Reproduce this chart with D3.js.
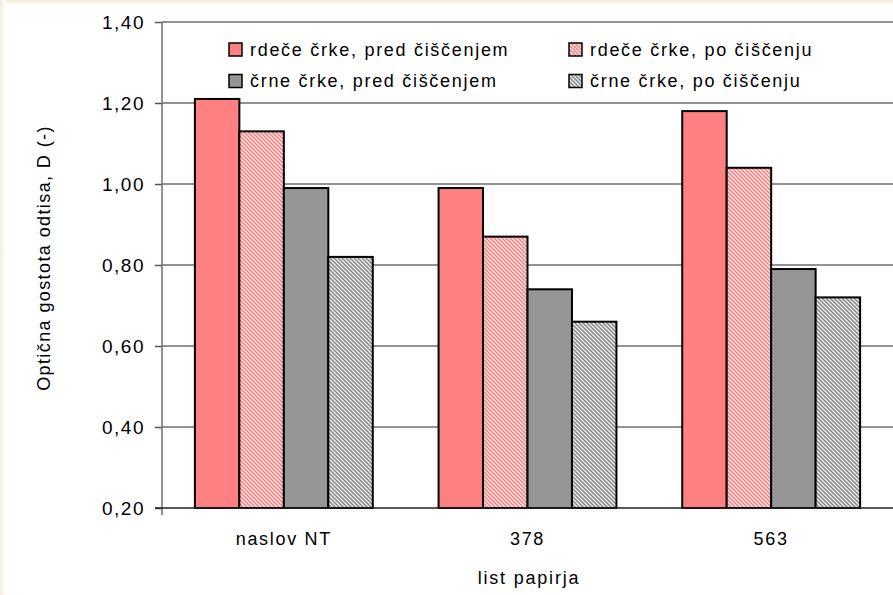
<!DOCTYPE html>
<html><head><meta charset="utf-8">
<script src="https://cdn.jsdelivr.net/npm/d3@7"></script>
<style>
html,body{margin:0;padding:0;background:#fff;}
svg{display:block;font-family:"Liberation Sans",Arial,sans-serif;}
</style></head>
<body>
<svg id="c" width="893" height="595"></svg>
<script>
const categories = ["naslov NT", "378", "563"];
const seriesNames = ["rdeče črke, pred čiščenjem", "rdeče črke, po čiščenju", "črne črke, pred čiščenjem", "črne črke, po čiščenju"];
const redBefore = [1.21, 0.99, 1.18];
const redAfter = [1.13, 0.87, 1.04];
const blackBefore = [0.99, 0.74, 0.79];
const blackAfter = [0.82, 0.66, 0.72];
const yTicks = [0.20, 0.40, 0.60, 0.80, 1.00, 1.20, 1.40];
const seriesValues = [redBefore, redAfter, blackBefore, blackAfter];

const svg = d3.select("#c");
const W = 893, H = 595;
const m = {l:162, t:22, r:0, b:87};
const FF = "Liberation Sans, Arial, sans-serif";

// soft frame glow
const defs = svg.append("defs");
const lg = defs.append("linearGradient").attr("id","gt").attr("x1",0).attr("y1",0).attr("x2",0).attr("y2",1);
lg.append("stop").attr("offset","0").attr("stop-color","#f3eed9");
lg.append("stop").attr("offset","1").attr("stop-color","#ffffff");
const lg2 = defs.append("linearGradient").attr("id","gl").attr("x1",0).attr("y1",0).attr("x2",1).attr("y2",0);
lg2.append("stop").attr("offset","0").attr("stop-color","#f3eed9");
lg2.append("stop").attr("offset","1").attr("stop-color","#ffffff");
svg.append("rect").attr("width",W).attr("height",H).attr("fill","#fff");
svg.append("rect").attr("width",W).attr("height",6).attr("fill","url(#gt)");
svg.append("rect").attr("width",6).attr("height",H).attr("fill","url(#gl)");

function hatch(id, col){
  const p = defs.append("pattern").attr("id",id).attr("patternUnits","userSpaceOnUse")
    .attr("width",4).attr("height",4);
  p.append("rect").attr("width",4).attr("height",4).attr("fill","#fff");
  p.append("path").attr("d","M-1,-1 L5,5 M3,-1 L5,1 M-1,3 L1,5")
    .attr("stroke",col).attr("stroke-width",1.6);
}
hatch("hr","#ff7f7f");
hatch("hg","#8c8c8c");
const fills = ["#ff8080","url(#hr)","#969696","url(#hg)"];

const x = d3.scaleBand().domain(categories).range([m.l, W - m.r]).paddingInner(0.27).paddingOuter(0.135);
const xs = d3.scaleBand().domain(d3.range(4)).range([0, x.bandwidth()]);
const y = d3.scaleLinear().domain([0.2, 1.4]).range([H - m.b, m.t]);
const fmt = d => d.toFixed(2).replace(".", ",");

// gridlines
svg.append("g").selectAll("line").data(yTicks.filter(d=>d>0.2)).join("line")
  .attr("x1", m.l).attr("x2", W).attr("y1", d=>y(d)).attr("y2", d=>y(d))
  .attr("stroke","#6e6e6e").attr("stroke-width",1.5);

// y axis
const ya = svg.append("g").attr("transform",`translate(${m.l},0)`)
  .call(d3.axisLeft(y).tickValues(yTicks).tickFormat(fmt).tickSize(7).tickPadding(10));
ya.select(".domain").remove();
ya.selectAll(".tick line").attr("stroke","#555").attr("stroke-width",1.5);
ya.selectAll(".tick text").attr("font-size",19).attr("letter-spacing","1.5px").attr("fill","#000").attr("font-family",FF);
svg.append("line").attr("x1",m.l).attr("x2",m.l).attr("y1",m.t).attr("y2",y(0.2)+7)
  .attr("stroke","#6e6e6e").attr("stroke-width",1.5);

// bars
const g = svg.append("g");
seriesValues.forEach((vals, si) => {
  g.selectAll(null).data(vals).join("rect")
    .attr("x",(d,i)=>x(categories[i]) + xs(si))
    .attr("y",d=>y(d))
    .attr("width",xs.bandwidth())
    .attr("height",d=>y(0.2)-y(d))
    .attr("fill",fills[si]).attr("stroke","#000").attr("stroke-width",2);
});

// x axis line
svg.append("line").attr("x1",m.l-7).attr("x2",W).attr("y1",y(0.2)).attr("y2",y(0.2))
  .attr("stroke","#222").attr("stroke-width",1.5);
const xa = svg.append("g").attr("transform",`translate(0,${y(0.2)})`)
  .call(d3.axisBottom(x).tickSize(0).tickPadding(24));
xa.select(".domain").remove();
xa.selectAll(".tick text").attr("font-size",18).attr("letter-spacing","1.7px").attr("fill","#000").attr("font-family",FF);

// axis titles
svg.append("text").attr("x", 529).attr("y", 584).attr("text-anchor","middle")
  .attr("font-size",18).attr("letter-spacing","1.8px").text("list papirja");
svg.append("text").attr("transform","translate(50,258) rotate(-90)").attr("text-anchor","middle")
  .attr("font-size",18).attr("letter-spacing","1.4px").text("Optična gostota odtisa, D (-)");

// legend
const legPos = [[229,49.5],[569,49.5],[229,81],[569,81]];
seriesNames.forEach((n,i)=>{
  const [lx,ly] = legPos[i];
  svg.append("rect").attr("x",lx).attr("y",ly-6.5).attr("width",13).attr("height",13)
    .attr("fill",fills[i]).attr("stroke","#000").attr("stroke-width",1.5);
  svg.append("text").attr("x",lx+21).attr("y",ly+6).attr("font-size",18)
    .attr("letter-spacing","1.7px").text(n);
});
</script>
</body></html>
